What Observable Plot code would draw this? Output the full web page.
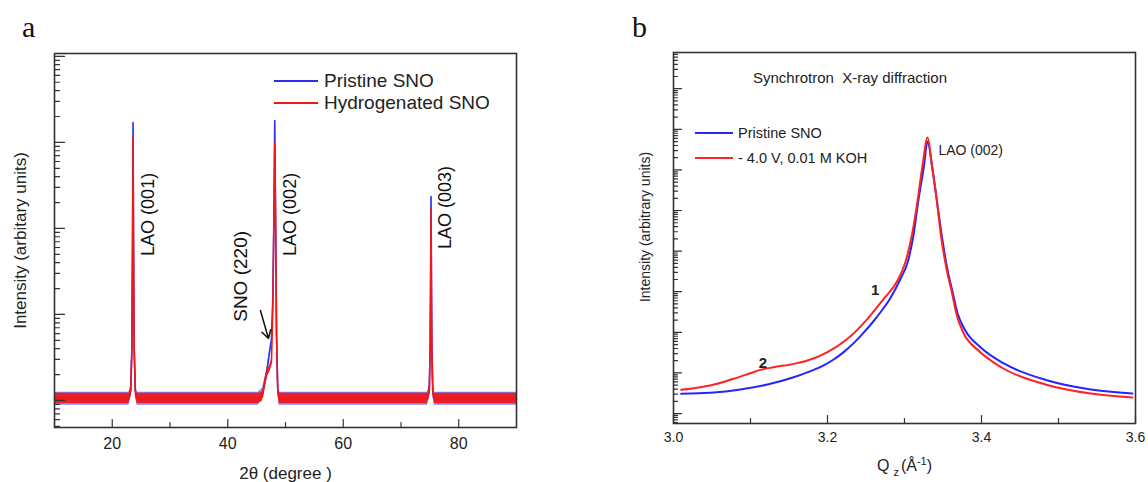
<!DOCTYPE html>
<html><head><meta charset="utf-8">
<script src="https://cdn.jsdelivr.net/npm/d3@7"></script>
<script src="https://cdn.jsdelivr.net/npm/@observablehq/plot@0.6"></script>
<style>
body{margin:0;background:#fff;}
#wrap{position:relative;width:1148px;height:482px;overflow:hidden;background:#fff;font-family:"Liberation Sans",Arial,Helvetica,sans-serif;color:#222;}
.abs{position:absolute;white-space:pre;}
.letter{font-family:"Liberation Serif","DejaVu Serif",serif;font-size:30px;line-height:30px;color:#111;}
.leg{display:flex;align-items:center;}
.ln{display:inline-block;height:2px;}
</style></head><body>
<div id="wrap">
  <div id="pa" class="abs" style="left:0;top:0"></div>
  <div id="pb" class="abs" style="left:580px;top:0"></div>
  <div class="abs letter" style="left:22px;top:12px">a</div>
  <div class="abs letter" style="left:632px;top:12px">b</div>
  <div id="legA"></div>
  <div id="legB"></div>
  <div class="abs" style="left:753px;top:69px;font-size:15px;line-height:18px;">Synchrotron  X-ray diffraction</div>
  <div class="abs" style="left:877px;top:451px;font-size:16px;line-height:20px;">Q<sub style="font-size:11px;margin-left:4px;margin-right:2px">z</sub>(Å<sup style="font-size:11px">-1</sup>)</div>
</div>
<script>
// ---------- Panel a data (2θ scan, log intensity) ----------
const twoTheta    = [10, 22.9, 23.2, 23.4, 23.52, 23.6, 23.68, 23.8, 24.0, 24.3, 45.3, 46.0, 46.7, 47.2, 47.57, 47.8, 48.0, 48.14, 48.28, 48.45, 48.65, 48.9, 74.6, 74.9, 75.05, 75.13, 75.2, 75.27, 75.35, 75.5, 75.8, 90];
const pristine    = [10.5, 10.5, 13, 40, 800, 17000, 800, 40, 13, 10.5, 10.5, 12, 20, 35, 52, 150, 1500, 18000, 1500, 60, 14, 10.5, 10.5, 13, 40, 250, 2350, 250, 40, 13, 10.5, 10.5];
const pristineLo  = [8.8, 8.8, 11, 37, 800, 17000, 800, 37, 11, 8.8, 8.8, 10.5, 18, 33, 52, 150, 1500, 18000, 1500, 55, 12, 8.8, 8.8, 11, 37, 250, 2350, 250, 37, 11, 8.8, 8.8];
const pristineHi  = [12.5, 12.5, 15, 43, 800, 17000, 800, 43, 15, 12.5, 12.5, 13.8, 22, 37, 52, 150, 1500, 18000, 1500, 65, 16, 12.5, 12.5, 15, 43, 250, 2350, 250, 43, 15, 12.5, 12.5];
const hydro       = [10.5, 10.5, 13, 40, 700, 12000, 700, 40, 13, 10.5, 10.5, 11, 20, 23, 28, 120, 1300, 10000, 1300, 55, 14, 10.5, 10.5, 13, 40, 220, 1700, 220, 40, 13, 10.5, 10.5];
const hydroLo     = [9.2, 9.2, 11.5, 37, 700, 12000, 700, 37, 11.5, 9.2, 9.2, 9.8, 18, 21, 26, 120, 1300, 10000, 1300, 50, 12.5, 9.2, 9.2, 11.5, 37, 220, 1700, 220, 37, 11.5, 9.2, 9.2];
const hydroHi     = [12.1, 12.1, 14.5, 43, 700, 12000, 700, 43, 14.5, 12.1, 12.1, 12.5, 22, 25, 30, 120, 1300, 10000, 1300, 60, 15.5, 12.1, 12.1, 14.5, 43, 220, 1700, 220, 43, 14.5, 12.1, 12.1];
const seriesNamesA = ["Pristine SNO", "Hydrogenated SNO"];
const peakLabelsA = [
  {label: "LAO (001)", x: 26.2, y: 1456, size: 18},
  {label: "LAO (002)", x: 50.9, y: 1456, size: 18},
  {label: "LAO (003)", x: 77.7, y: 1754, size: 18},
  {label: "SNO (220)", x: 42.2, y: 277, size: 19}
];
const arrowA = [{x1: 45.66, y1: 111, x2: 47.05, y2: 52.6}];
const xMajorA = [20, 40, 60, 80];
const xMinorA = [30, 50, 70];
const yDecadesA = [10, 100, 1000, 10000, 100000];

// ---------- Panel b data (synchrotron, around LAO 002) ----------
const qzP  = [3.010, 3.048, 3.087, 3.122, 3.156, 3.182, 3.195, 3.208, 3.221, 3.234, 3.247, 3.260, 3.271, 3.282, 3.295, 3.304, 3.312, 3.318, 3.325, 3.330, 3.336, 3.342, 3.348, 3.356, 3.362, 3.369, 3.379, 3.399, 3.429, 3.486, 3.542, 3.596];
const intP = [30.5, 32.4, 39, 51.8, 78.3, 119, 154, 214, 325, 541, 984, 1901, 3540, 7110, 21130, 52360, 271000, 1760000, 11460000, 50100000, 11460000, 1760000, 271000, 33270, 10720, 2904, 1107, 423, 171, 65, 39, 31];
const qzH  = [3.010, 3.035, 3.057, 3.078, 3.100, 3.113, 3.130, 3.156, 3.174, 3.200, 3.226, 3.252, 3.273, 3.291, 3.301, 3.310, 3.317, 3.323, 3.330, 3.336, 3.342, 3.347, 3.355, 3.361, 3.368, 3.377, 3.396, 3.426, 3.483, 3.542, 3.596];
const intH = [38.4, 44.5, 54, 71.6, 98.4, 119, 138, 167, 202, 324, 692, 2153, 6680, 18880, 52360, 271000, 1760000, 11460000, 62800000, 11460000, 1760000, 271000, 33270, 10720, 2594, 933, 356, 136, 52, 31, 24.8];
const seriesNamesB = ["Pristine SNO", "- 4.0 V, 0.01 M KOH"];
const notesB = [
  {label: "LAO (002)", x: 3.344, y: 3.0e7}
];
const markersB = [
  {label: "1", x: 3.262, y: 10700},
  {label: "2", x: 3.116, y: 175}
];
const xMajorB = [3.0, 3.2, 3.4, 3.6];
const xMinorB = [3.1, 3.3, 3.5];
const yDecadesB = [10, 1e2, 1e3, 1e4, 1e5, 1e6, 1e7, 1e8, 1e9];

// ---------- build ----------
const blueA = "#2e2ef0", redA = "#f21818", blueB = "#2424ff", redB = "#ff2222";
const font = '"Liberation Sans", Arial, Helvetica, sans-serif';
function minorTicks(lo, hi) {
  const out = [];
  for (let e = Math.floor(Math.log10(lo)); e <= Math.ceil(Math.log10(hi)); e++)
    for (let k = 2; k <= 9; k++) { const v = k * Math.pow(10, e); if (v >= lo && v <= hi) out.push(v); }
  return out;
}
const tickShape = {draw(c, l) { c.moveTo(0, 0); c.lineTo(0, -l); }};
const tickStyle = {stroke: "#333", strokeWidth: 1.2, shape: tickShape, anchor: "start"};
const xTicks = (vals, len) => Plot.vector(vals, {x: d => d, frameAnchor: "bottom", length: len, rotate: 0, ...tickStyle});
const yTicks = (vals, len) => Plot.vector(vals, {y: d => d, frameAnchor: "left", length: len, rotate: 90, ...tickStyle});

const rowsP = twoTheta.map((x, i) => ({x, y: pristine[i], lo: pristineLo[i], hi: pristineHi[i]}));
const rowsH = twoTheta.map((x, i) => ({x, y: hydro[i], lo: hydroLo[i], hi: hydroHi[i]}));
const domA = [4.85, 1.08e5];

const chartA = Plot.plot({
  width: 560, height: 482,
  marginLeft: 54, marginRight: 44, marginTop: 53, marginBottom: 55,
  style: {fontFamily: font, color: "#222", background: "transparent", overflow: "visible"},
  x: {domain: [10, 90], axis: null},
  y: {type: "log", domain: domA, axis: null},
  marks: [
    Plot.area(rowsP, {x1: "x", y1: "lo", y2: "hi", fill: blueA, fillOpacity: 0.6}),
    Plot.line(rowsP, {x: "x", y: "y", stroke: blueA, strokeWidth: 1.6}),
    Plot.area(rowsH, {x1: "x", y1: "lo", y2: "hi", fill: redA, fillOpacity: 0.92}),
    Plot.line(rowsH, {x: "x", y: "y", stroke: redA, strokeWidth: 1.6}),
    xTicks(xMajorA, 8),
    xTicks(xMinorA, 5),
    Plot.axisX({ticks: xMajorA, tickSize: 0, tickPadding: 10, fontSize: 16, label: null, tickFormat: d => String(d)}),
    yTicks(yDecadesA, 10),
    yTicks(minorTicks(domA[0], domA[1]), 5),
    Plot.frame({stroke: "#333", strokeWidth: 1.6}),
    Plot.text(peakLabelsA, {x: "x", y: "y", text: "label", rotate: -90, fontSize: d => d.size, fill: "#111"}),
    Plot.arrow(arrowA, {x1: "x1", y1: "y1", x2: "x2", y2: "y2", stroke: "#111", strokeWidth: 1.5, headLength: 9}),
    Plot.text(["Intensity (arbitary units)"], {text: d => d, frameAnchor: "left", textAnchor: "middle", lineAnchor: "middle", dx: -34, rotate: -90, fontSize: 17, fill: "#222"}),
    Plot.text(["2θ (degree )"], {text: d => d, frameAnchor: "bottom", textAnchor: "middle", lineAnchor: "middle", dy: 46, fontSize: 17, fill: "#222"})
  ]
});
document.getElementById("pa").appendChild(chartA);

const rowsBP = qzP.map((x, i) => ({x, y: intP[i]}));
const rowsBH = qzH.map((x, i) => ({x, y: intH[i]}));
const domB = [5.68, 7.8e9];
const chartB = Plot.plot({
  width: 568, height: 482,
  marginLeft: 93, marginRight: 13, marginTop: 52, marginBottom: 59,
  style: {fontFamily: font, color: "#222", background: "transparent", overflow: "visible"},
  x: {domain: [3.0, 3.6], axis: null},
  y: {type: "log", domain: domB, axis: null},
  marks: [
    Plot.line(rowsBP, {x: "x", y: "y", stroke: blueB, strokeWidth: 2, curve: "monotone-x"}),
    Plot.line(rowsBH, {x: "x", y: "y", stroke: redB, strokeWidth: 2, curve: "monotone-x"}),
    xTicks(xMajorB, 8),
    xTicks(xMinorB, 5),
    Plot.axisX({ticks: xMajorB, tickSize: 0, tickPadding: 9, fontSize: 14, label: null, tickFormat: d3.format(".1f")}),
    yTicks(yDecadesB, 8),
    yTicks(minorTicks(domB[0], domB[1]), 4),
    Plot.frame({stroke: "#333", strokeWidth: 1.6}),
    Plot.text(notesB, {x: "x", y: "y", text: "label", textAnchor: "start", fontSize: 14, fill: "#222"}),
    Plot.text(markersB, {x: "x", y: "y", text: "label", fontSize: 15, fontWeight: "bold", fill: "#222"}),
    Plot.text(["Intensity (arbitrary units)"], {text: d => d, frameAnchor: "left", textAnchor: "middle", lineAnchor: "middle", dx: -28, dy: -11, rotate: -90, fontSize: 14, fill: "#222"})
  ]
});
document.getElementById("pb").appendChild(chartB);

// legends (HTML)
function legend(el, names, colors, left, centers, lineW, gap, fs, h) {
  names.forEach((n, i) => {
    const row = document.createElement("div");
    row.className = "abs leg";
    row.style.left = left + "px";
    row.style.top = (centers[i] - h / 2) + "px";
    row.style.height = h + "px";
    row.style.fontSize = fs + "px";
    row.style.lineHeight = h + "px";
    row.innerHTML = `<span class="ln" style="width:${lineW}px;background:${colors[i]};margin-right:${gap}px"></span><span>${n}</span>`;
    el.appendChild(row);
  });
}
legend(document.getElementById("legA"), seriesNamesA, [blueA, redA], 274, [81, 103], 44, 6, 19, 22);
legend(document.getElementById("legB"), seriesNamesB, [blueB, redB], 695, [133, 158], 38, 5, 14.5, 18);
</script>
</body></html>
